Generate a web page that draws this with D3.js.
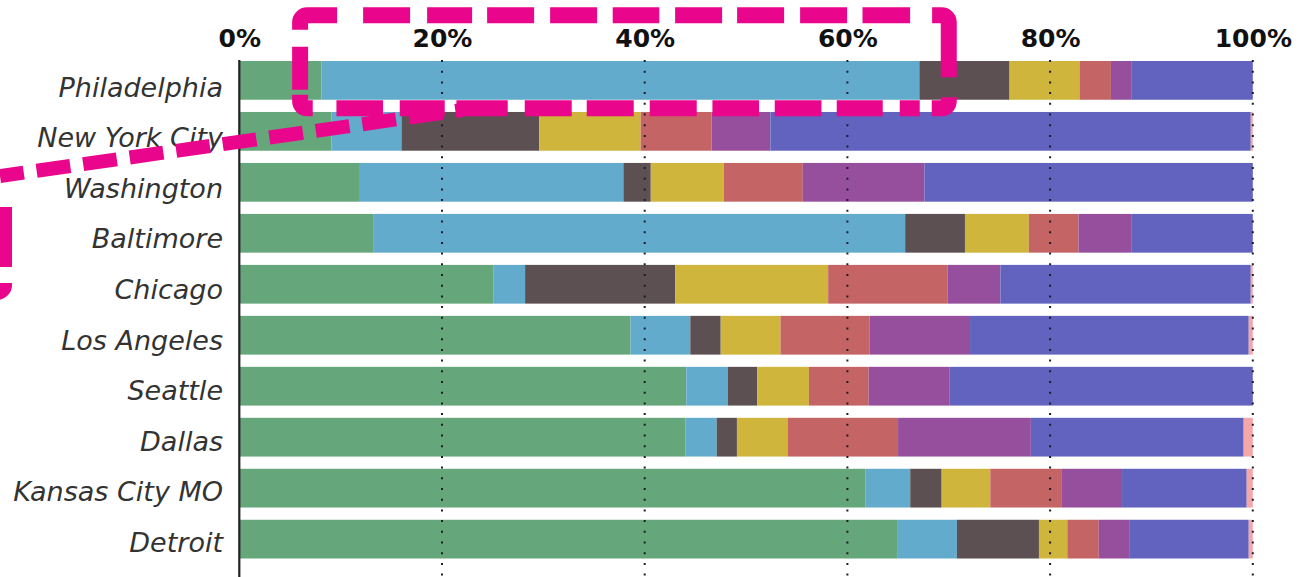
<!DOCTYPE html>
<html>
<head>
<meta charset="utf-8">
<script src="https://cdn.jsdelivr.net/npm/d3@7"></script>
<style>
  html, body { margin: 0; padding: 0; background: #ffffff; }
  svg { display: block; }
</style>
</head>
<body>
<svg id="chart" width="1301" height="577"></svg>
<script>
// City rows, top to bottom
const cities = ["Philadelphia", "New York City", "Washington", "Baltimore", "Chicago",
                "Los Angeles", "Seattle", "Dallas", "Kansas City MO", "Detroit"];

// Share (%) of each segment per city, in stacking order left to right
const segGreen  = [8.1, 9.1, 11.9, 13.2, 25.1, 38.6, 44.1, 44.0, 61.8, 64.9];
const segBlue   = [59.0, 6.9, 26.0, 52.5, 3.1, 5.9, 4.1, 3.1, 4.4, 5.9];
const segBrown  = [8.9, 13.6, 2.7, 5.9, 14.8, 3.0, 2.9, 2.0, 3.1, 8.1];
const segYellow = [6.9, 10.0, 7.2, 6.3, 15.1, 5.9, 5.1, 5.0, 4.8, 2.8];
const segSalmon = [3.1, 7.0, 7.8, 4.9, 11.8, 8.8, 5.9, 10.9, 7.0, 3.1];
const segPurple = [2.0, 5.8, 12.0, 5.2, 5.2, 9.9, 8.0, 13.1, 6.0, 3.0];
const segViolet = [12.0, 47.4, 32.4, 12.0, 24.7, 27.5, 29.9, 21.0, 12.3, 11.8];
const segPink   = [0.0, 0.2, 0.0, 0.0, 0.2, 0.4, 0.0, 0.9, 0.6, 0.4];

const seriesKeys = ["green", "blue", "brown", "yellow", "salmon", "purple", "violet", "pink"];
const seriesColors = ["#65a67b", "#63abcc", "#5d5052", "#cfb53b", "#c46464", "#954f9c", "#6163bf", "#f4a7a8"];

// Tick values along the top axis
const tickValues = [0, 20, 40, 60, 80, 100];

const rows = cities.map((c, i) => ({
  city: c,
  green: segGreen[i], blue: segBlue[i], brown: segBrown[i], yellow: segYellow[i],
  salmon: segSalmon[i], purple: segPurple[i], violet: segViolet[i], pink: segPink[i]
}));

const svg = d3.select("#chart");

const x = d3.scaleLinear().domain([0, 100]).range([239.3, 1252.8]);
const y = d3.scaleBand().domain(cities).range([61, 558.5]).paddingInner(0.24).paddingOuter(0);
const labelY = d3.scalePoint().domain(cities).range([96.5, 552]);
const color = d3.scaleOrdinal().domain(seriesKeys).range(seriesColors);

const stacked = d3.stack().keys(seriesKeys)(rows);

// Stacked bars
svg.append("g")
  .selectAll("g")
  .data(stacked)
  .join("g")
    .attr("fill", d => color(d.key))
  .selectAll("rect")
  .data(d => d)
  .join("rect")
    .attr("x", d => x(d[0]))
    .attr("y", d => y(d.data.city))
    .attr("width", d => Math.max(0, x(d[1]) - x(d[0])))
    .attr("height", y.bandwidth());

// Dotted gridlines drawn over the bars
svg.append("g")
  .selectAll("line")
  .data(tickValues.filter(v => v > 0))
  .join("line")
    .attr("x1", d => x(d)).attr("x2", d => x(d))
    .attr("y1", 60).attr("y2", 577)
    .attr("stroke", "#1c1c28")
    .attr("stroke-width", 2)
    .attr("stroke-dasharray", "2 8.7");

// Baseline at 0%
svg.append("line")
  .attr("x1", x(0)).attr("x2", x(0))
  .attr("y1", 60).attr("y2", 577)
  .attr("stroke", "#222")
  .attr("stroke-width", 2.2);

// Top axis labels
const xAxis = d3.axisTop(x).tickValues(tickValues).tickFormat(d => d + "%").tickSize(0).tickPadding(0);
const axisG = svg.append("g").attr("transform", "translate(0,46.5)").call(xAxis);
axisG.select(".domain").remove();
axisG.selectAll("text")
  .attr("dy", 0)
  .attr("y", 0)
  .attr("font-family", "'DejaVu Sans', sans-serif")
  .attr("font-weight", "bold")
  .attr("font-size", 25)
  .attr("fill", "#111");

// City labels
svg.append("g")
  .selectAll("text")
  .data(cities)
  .join("text")
    .attr("x", 223)
    .attr("y", d => labelY(d))
    .attr("text-anchor", "end")
    .attr("font-family", "'DejaVu Sans', sans-serif")
    .attr("font-style", "italic")
    .attr("font-size", 27)
    .attr("fill", "#333")
    .text(d => d);

// Magenta callout: hand-dashed rounded box around the top bar and its connector
const pink = "#ea068c";
const bx0 = x(6), bx1 = x(70), by0 = 15.3, by1 = 108.3, r = 7;
const boxPath = d3.path();
boxPath.moveTo(bx0 + r, by0);
boxPath.lineTo(bx1 - r, by0);
boxPath.arcTo(bx1, by0, bx1, by0 + r, r);
boxPath.lineTo(bx1, by1 - r);
boxPath.arcTo(bx1, by1, bx1 - r, by1, r);
boxPath.lineTo(bx0 + r, by1);
boxPath.arcTo(bx0, by1, bx0, by1 - r, r);
boxPath.lineTo(bx0, by0 + r);
boxPath.arcTo(bx0, by0, bx0 + r, by0, r);
boxPath.closePath();

// Uneven dash run, clockwise from the top-left corner
const boxDashes = [30, 26, 47, 17, 45, 15, 47, 16, 47, 15.6, 46.6, 15.8, 47, 15, 47, 16, 47, 15.4,
  47.6, 22, 75.4, 20, 25.1, 12, 20, 17, 46, 15.3, 46.7, 15.7, 46.6, 15.7, 47, 16, 47, 15, 47, 17,
  51.3, 11.7, 45, 16.7, 46.6, 23.7, 23.2, 5, 43, 17, 40];

const callout = svg.append("g").attr("fill", "none").attr("stroke", pink);

callout.append("path")
  .attr("d", boxPath.toString())
  .attr("stroke-width", 16)
  .attr("stroke-dasharray", boxDashes.join(" "));

callout.append("path")
  .attr("d", d3.line()([[0, 176], [462, 110]]))
  .attr("stroke-width", 14)
  .attr("stroke-dasharray", "34 13")
  .attr("stroke-dashoffset", 10);

const sidePath = d3.path();
sidePath.moveTo(5, 207);
sidePath.lineTo(5, 285);
sidePath.arcTo(5, 293, -3, 293, 8);
sidePath.lineTo(-100, 293);
callout.append("path")
  .attr("d", sidePath.toString())
  .attr("stroke-width", 14)
  .attr("stroke-dasharray", "60 16 300");
</script>
</body>
</html>
